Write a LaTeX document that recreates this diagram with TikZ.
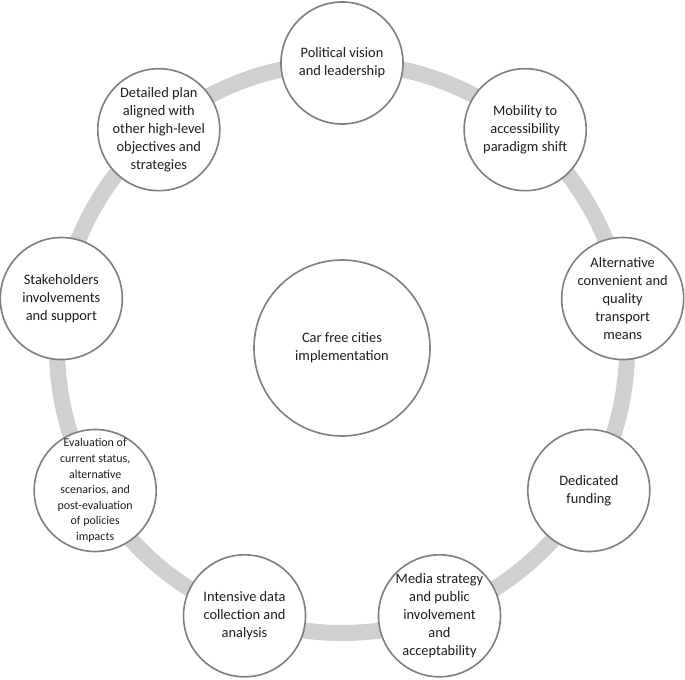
\documentclass[tikz,border=0pt]{standalone}
\usepackage{fontspec}
\setmainfont{Carlito}
\usepackage{xcolor}
\usepackage{tikz}
\usetikzlibrary{backgrounds}

\definecolor{ringgray}{RGB}{208,208,208}
\definecolor{rimgray}{RGB}{128,128,128}
\definecolor{inkgray}{RGB}{30,30,30}

\begin{document}
\begin{tikzpicture}[
        disc/.style = {circle, draw = rimgray, line width = 1.4pt, fill = white,
            minimum size = 3.66cm, inner sep = 0pt},
        hub/.style = {disc, minimum size = 5.28cm},
        words/.style = {align = center, text = inkgray, inner sep = 0pt,
            font = \fontsize{12.3}{15.4}\selectfont},
        smallwords/.style = {words, font = \fontsize{10.2}{13.3}\selectfont},
        ring/.style = {draw = ringgray, line width = 0.48cm}
    ]
                \useasboundingbox (-10.26, -9.93) rectangle (10.29, 10.44);

                \node [hub] (hub) at (0, 0) {};
                \node [words] (hub-t) at (hub) {Car free cities\\implementation};

                \node [disc] (vision) at (90:8.55) {};
                \node [words] (vision-t) at (vision) {Political vision\\and leadership};
                \node [disc] (shift) at (50:8.55) {};
                \node [words] (shift-t) at (shift) {Mobility to\\accessibility\\paradigm shift};
                \node [disc] (means) at (10:8.55) {};
                \node [words] (means-t) at (means) {Alternative\\convenient and\\quality\\transport\\means};
                \node [disc] (funding) at (-30:8.55) {};
                \node [words] (funding-t) at (funding) {Dedicated\\funding};
                \node [disc] (media) at (-70:8.55) {};
                \node [words] (media-t) at (media) {Media strategy\\and public\\involvement\\and\\acceptability};
                \node [disc] (data) at (-110:8.55) {};
                \node [words] (data-t) at (data) {Intensive data\\collection and\\analysis};
                \node [disc] (evaluation) at (-150:8.55) {};
                \node [smallwords] (evaluation-t) at (evaluation) {Evaluation of\\current status,\\alternative\\scenarios, and\\post-evaluation\\of policies\\impacts};
                \node [disc] (stakeholders) at (170:8.55) {};
                \node [words] (stakeholders-t) at (stakeholders) {Stakeholders\\involvements\\and support};
                \node [disc] (plan) at (130:8.55) {};
                \node [words] (plan-t) at (plan) {Detailed plan\\aligned with\\other high-level\\objectives and\\strategies};

                \begin{scope}[on background layer]
                    \draw [ring] (vision.center) arc [start angle = 90, end angle = 50, radius = 8.55];
                    \draw [ring] (shift.center) arc [start angle = 50, end angle = 10, radius = 8.55];
                    \draw [ring] (means.center) arc [start angle = 10, end angle = -30, radius = 8.55];
                    \draw [ring] (funding.center) arc [start angle = -30, end angle = -70, radius = 8.55];
                    \draw [ring] (media.center) arc [start angle = -70, end angle = -110, radius = 8.55];
                    \draw [ring] (data.center) arc [start angle = -110, end angle = -150, radius = 8.55];
                    \draw [ring] (evaluation.center) arc [start angle = -150, end angle = -190, radius = 8.55];
                    \draw [ring] (stakeholders.center) arc [start angle = 170, end angle = 130, radius = 8.55];
                    \draw [ring] (plan.center) arc [start angle = 130, end angle = 90, radius = 8.55];
                \end{scope}
            \end{tikzpicture}
\end{document}
